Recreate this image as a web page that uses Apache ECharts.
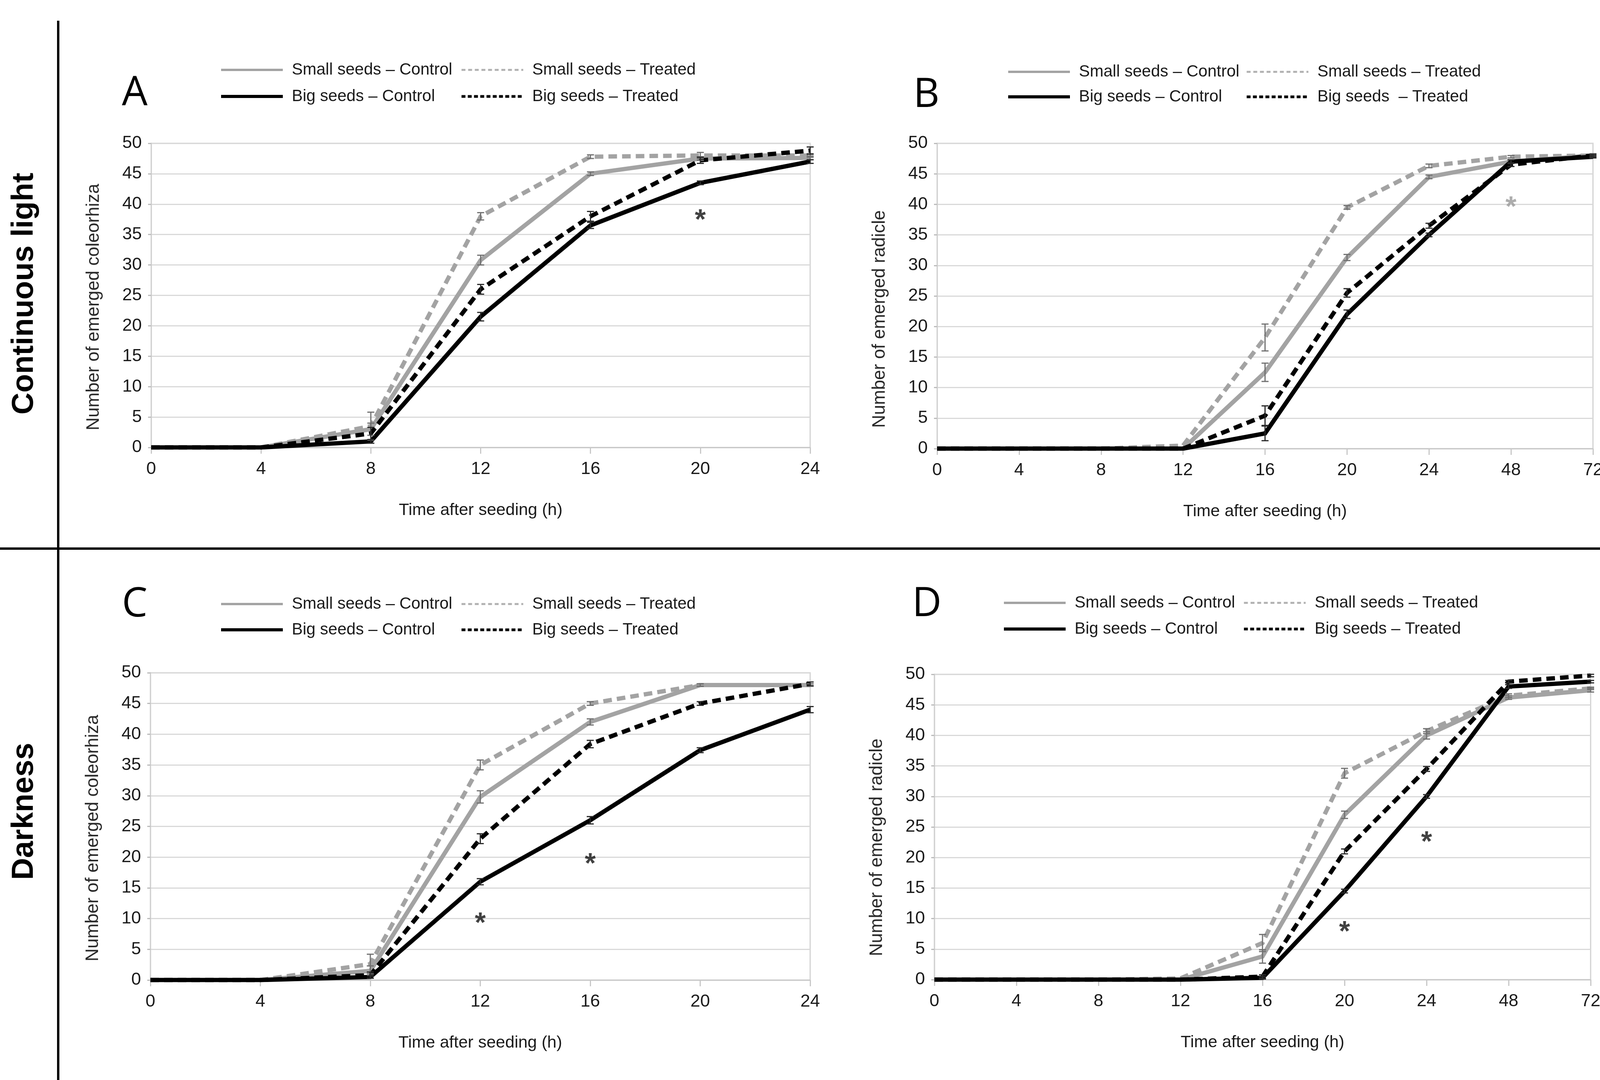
<!DOCTYPE html>
<html>
<head>
<meta charset="utf-8">
<script src="https://cdn.jsdelivr.net/npm/echarts@6/dist/echarts.min.js"></script>
<style>
html,body{margin:0;padding:0;background:#fff;}
#c{width:4195px;height:2766px;}
</style>
</head>
<body>
<div id="c"></div>
<script>
// ---------- categories / tick labels ----------
const CATS_COLEO = ['0','4','8','12','16','20','24'];
const CATS_RADIC = ['0','4','8','12','16','20','24','48','72'];

// ---------- series names ----------
const N_SC = 'Small seeds – Control';
const N_ST = 'Small seeds – Treated';
const N_BC = 'Big seeds – Control';
const N_BT = 'Big seeds – Treated';
const N_BT_B = 'Big seeds  – Treated';   // legend text as printed in panel B

// ---------- Panel A: coleorhiza, continuous light ----------
const A_SC = [0, 0, 3.0, 30.8, 45.0, 47.5, 47.6];
const A_ST = [0, 0, 3.5, 38.0, 47.8, 48.0, 48.0];
const A_BC = [0, 0, 1.0, 21.5, 36.5, 43.5, 47.0];
const A_BT = [0, 0, 2.3, 26.0, 38.0, 47.2, 48.8];
const A_SC_ERR = [0, 0, 1.0, 0.8, 0.3, 0.3, 0.3];
const A_ST_ERR = [0, 0, 2.3, 0.6, 0.3, 0.5, 0.3];
const A_BC_ERR = [0, 0, 0.3, 0.7, 0.5, 0.3, 0.3];
const A_BT_ERR = [0, 0, 1.0, 0.8, 0.8, 0.5, 0.6];
const A_STARS = [['20', 38.4]];

// ---------- Panel B: radicle, continuous light ----------
const B_SC = [0, 0, 0, 0, 12.5, 31.3, 44.5, 47.0, 48.0];
const B_ST = [0, 0, 0, 0.5, 18.2, 39.5, 46.3, 47.8, 48.0];
const B_BC = [0, 0, 0, 0, 2.5, 22.0, 35.0, 47.0, 47.8];
const B_BT = [0, 0, 0, 0, 5.4, 25.5, 36.5, 46.5, 48.0];
const B_SC_ERR = [0, 0, 0, 0, 1.5, 0.5, 0.3, 0.3, 0.3];
const B_ST_ERR = [0, 0, 0, 0, 2.2, 0.3, 0.3, 0.2, 0.2];
const B_BC_ERR = [0, 0, 0, 0, 1.2, 0.7, 0.3, 0.3, 0.2];
const B_BT_ERR = [0, 0, 0, 0, 1.6, 0.7, 0.4, 0.3, 0.2];
const B_STARS = [['48', 40.5]];

// ---------- Panel C: coleorhiza, darkness ----------
const C_SC = [0, 0, 1.5, 29.8, 42.0, 48.0, 48.0];
const C_ST = [0, 0, 2.6, 35.0, 45.0, 48.0, 48.0];
const C_BC = [0, 0, 0.5, 16.0, 26.0, 37.4, 44.0];
const C_BT = [0, 0, 0.8, 23.0, 38.4, 45.0, 48.2];
const C_SC_ERR = [0, 0, 0.8, 1.0, 0.5, 0.2, 0.2];
const C_ST_ERR = [0, 0, 1.6, 0.8, 0.3, 0.2, 0.2];
const C_BC_ERR = [0, 0, 0.2, 0.5, 0.6, 0.4, 0.5];
const C_BT_ERR = [0, 0, 0.5, 0.8, 0.6, 0.3, 0.3];
const C_STARS = [['12', 10.2], ['16', 19.9]];

// ---------- Panel D: radicle, darkness ----------
const D_SC = [0, 0, 0, 0, 3.8, 27.0, 40.0, 46.2, 47.4];
const D_ST = [0, 0, 0, 0.2, 6.0, 33.8, 40.7, 46.5, 47.7];
const D_BC = [0, 0, 0, 0, 0.3, 14.5, 30.0, 48.0, 48.8];
const D_BT = [0, 0, 0, 0, 0.5, 21.0, 34.5, 48.8, 49.8];
const D_SC_ERR = [0, 0, 0, 0, 1.1, 0.6, 0.6, 0.3, 0.3];
const D_ST_ERR = [0, 0, 0, 0, 1.4, 0.8, 0.4, 0.3, 0.2];
const D_BC_ERR = [0, 0, 0, 0, 0.2, 0.3, 0.3, 0.3, 0.2];
const D_BT_ERR = [0, 0, 0, 0, 0.3, 0.4, 0.4, 0.2, 0.2];
const D_STARS = [['20', 8.8], ['24', 23.5]];

// ---------- styles ----------
const GRAY = '#a3a3a3';
const BLACK = '#000000';
const NARROW = '"Liberation Sans", Arial, sans-serif';
const SANS = '"Liberation Sans", Arial, sans-serif';

const panels = [
  {cats: CATS_COLEO, sc: A_SC, st: A_ST, bc: A_BC, bt: A_BT,
   e: [A_SC_ERR, A_ST_ERR, A_BC_ERR, A_BT_ERR], stars: A_STARS, starColor: '#111',
   yname: 'Number of emerged coleorhiza', ypad: 60, btLabel: N_BT,
   grid: {left: 387, top: 367, width: 1687, height: 779},
   leg: [{left: 562, top: 154, gap: 18}, {left: 1178, top: 154, gap: 18}],
   letter: 'A', lx: 312, ly: 250},
  {cats: CATS_RADIC, sc: B_SC, st: B_ST, bc: B_BC, bt: B_BT,
   e: [B_SC_ERR, B_ST_ERR, B_BC_ERR, B_BT_ERR], stars: B_STARS, starColor: '#999',
   yname: 'Number of emerged radicle', ypad: 118, btLabel: N_BT_B,
   grid: {left: 2399, top: 367, width: 1679, height: 782},
   leg: [{left: 2577, top: 159, gap: 14}, {left: 3188, top: 159, gap: 14}],
   letter: 'B', lx: 2338, ly: 254},
  {cats: CATS_COLEO, sc: C_SC, st: C_ST, bc: C_BC, bt: C_BT,
   e: [C_SC_ERR, C_ST_ERR, C_BC_ERR, C_BT_ERR], stars: C_STARS, starColor: '#111',
   yname: 'Number of emerged coleorhiza', ypad: 60, btLabel: N_BT,
   grid: {left: 385, top: 1723, width: 1689, height: 787},
   leg: [{left: 562, top: 1522, gap: 16}, {left: 1178, top: 1522, gap: 16}],
   letter: 'C', lx: 312, ly: 1559},
  {cats: CATS_RADIC, sc: D_SC, st: D_ST, bc: D_BC, bt: D_BT,
   e: [D_SC_ERR, D_ST_ERR, D_BC_ERR, D_BT_ERR], stars: D_STARS, starColor: '#111',
   yname: 'Number of emerged radicle', ypad: 104, btLabel: N_BT,
   grid: {left: 2392, top: 1727, width: 1680, height: 782},
   leg: [{left: 2566, top: 1519, gap: 17}, {left: 3181, top: 1519, gap: 17}],
   letter: 'D', lx: 2335, ly: 1558}
];

const legendText = {fontFamily: NARROW, fontSize: 42, lineHeight: 50, color: '#1a1a1a', padding: [0, 0, 0, 18]};
const hideSym = {opacity: 0};
const legItem = {
  [N_SC]: {name: N_SC, lineStyle: {color: GRAY, width: 6, type: 'solid'}, itemStyle: hideSym},
  [N_ST]: {name: N_ST, lineStyle: {color: '#b0b0b0', width: 5, type: [10, 7]}, itemStyle: hideSym},
  [N_BC]: {name: N_BC, lineStyle: {color: BLACK, width: 8, type: 'solid'}, itemStyle: hideSym},
  [N_BT]: {name: N_BT, lineStyle: {color: BLACK, width: 7, type: [10, 6]}, itemStyle: hideSym}
};

function renderErr(params, api) {
  const x = api.value(0), v = api.value(1), e = api.value(2), big = api.value(3);
  const t = api.coord([x, v + e]);
  const b = api.coord([x, v - e]);
  const hw = 9;
  const color = big ? '#2a2a2a' : '#707070';
  const st = {stroke: color, lineWidth: 3};
  return {type: 'group', children: [
    {type: 'line', shape: {x1: t[0], y1: t[1], x2: b[0], y2: b[1]}, style: st},
    {type: 'line', shape: {x1: t[0] - hw, y1: t[1], x2: t[0] + hw, y2: t[1]}, style: st},
    {type: 'line', shape: {x1: b[0] - hw, y1: b[1], x2: b[0] + hw, y2: b[1]}, style: st}
  ]};
}

const option = {
  animation: false,
  backgroundColor: '#ffffff',
  grid: [], xAxis: [], yAxis: [], series: [], legend: [],
  graphic: []
};

panels.forEach((p, i) => {
  option.grid.push(Object.assign({show: true, borderColor: '#d2d2d2', borderWidth: 3, backgroundColor: 'transparent'}, p.grid));
  option.xAxis.push({
    type: 'category', gridIndex: i, data: p.cats, boundaryGap: false,
    name: 'Time after seeding (h)', nameLocation: 'middle', nameGap: 140,
    nameTextStyle: {fontFamily: NARROW, fontSize: 43, color: '#1a1a1a'},
    axisLine: {show: true, lineStyle: {color: '#c8c8c8', width: 3}},
    axisTick: {show: true, length: 16, lineStyle: {color: '#c8c8c8', width: 3}},
    axisLabel: {fontFamily: NARROW, fontSize: 45, color: '#1a1a1a', margin: 33},
    splitLine: {show: false}
  });
  option.yAxis.push({
    type: 'value', gridIndex: i, min: 0, max: 50, interval: 5,
    name: p.yname, nameLocation: 'middle', nameGap: 124,
    nameTextStyle: {fontFamily: SANS, fontSize: 46, color: '#2a2a2a', padding: [0, p.ypad, 0, 0]},
    axisLine: {show: true, lineStyle: {color: '#d2d2d2', width: 3}},
    axisTick: {show: true, length: 8, lineStyle: {color: '#bbbbbb', width: 3}},
    axisLabel: {fontFamily: NARROW, fontSize: 45, color: '#1a1a1a', margin: 24},
    splitLine: {show: true, lineStyle: {color: '#d9d9d9', width: 3}}
  });
  const mk = (name, data, color, type, z) => ({
    type: 'line', name, data, xAxisIndex: i, yAxisIndex: i,
    symbol: 'none', showSymbol: false, z,
    lineStyle: {color, width: 11, type, cap: 'butt', join: 'miter'},
    itemStyle: {color}
  });
  option.series.push(mk(N_ST, p.st, GRAY, [22, 13], 2));
  option.series.push(mk(N_SC, p.sc, GRAY, 'solid', 3));
  option.series.push(mk(N_BT, p.bt, BLACK, [22, 13], 4));
  option.series.push(mk(N_BC, p.bc, BLACK, 'solid', 5));

  const errData = [];
  const vals = [p.sc, p.st, p.bc, p.bt];
  p.e.forEach((arr, k) => {
    arr.forEach((ev, j) => { if (ev > 0) errData.push([j, vals[k][j], ev, k >= 2 ? 1 : 0]); });
  });
  option.series.push({
    type: 'custom', xAxisIndex: i, yAxisIndex: i, renderItem: renderErr,
    data: errData, encode: {x: 0, y: 1}, z: 6, silent: true
  });
  option.series.push({
    type: 'scatter', xAxisIndex: i, yAxisIndex: i, data: p.stars,
    symbolSize: 2, itemStyle: {color: 'rgba(0,0,0,0)'}, z: 7, silent: true,
    label: {show: true, position: 'inside', formatter: '*', offset: [0, 18],
      fontFamily: SANS, fontWeight: 'bold', fontSize: 72, color: p.starColor}
  });

  const cols = [[N_SC, N_BC], [N_ST, N_BT]];
  const btLabel = p.btLabel;
  p.leg.forEach((lg, c) => {
    option.legend.push({
      orient: 'vertical', left: lg.left, top: lg.top, itemWidth: 158, itemHeight: 2,
      itemGap: lg.gap, selectedMode: false, padding: 0,
      textStyle: legendText,
      formatter: name => (name === N_BT ? btLabel : name),
      data: cols[c].map(n => legItem[n])
    });
  });

  option.graphic.push({
    type: 'text', left: p.lx, top: p.ly - 62, silent: true,
    style: {text: p.letter, fontFamily: '"Open Sans", "Liberation Sans", sans-serif', fontSize: 104, fill: '#000'}
  });
});

// separators and side labels
option.graphic.push({type: 'line', silent: true, shape: {x1: 149, y1: 53, x2: 149, y2: 2766}, style: {stroke: '#000', lineWidth: 6}});
option.graphic.push({type: 'line', silent: true, shape: {x1: 0, y1: 1405, x2: 4195, y2: 1405}, style: {stroke: '#000', lineWidth: 6}});
option.graphic.push({type: 'text', silent: true, x: 62, y: 752, rotation: Math.PI / 2,
  style: {text: 'Continuous light', x: 0, y: 0, textAlign: 'center', textVerticalAlign: 'middle', align: 'center', verticalAlign: 'middle',
    fontFamily: SANS, fontWeight: 'bold', fontSize: 78, fill: '#000'}});
option.graphic.push({type: 'text', silent: true, x: 62, y: 2078, rotation: Math.PI / 2,
  style: {text: 'Darkness', x: 0, y: 0, textAlign: 'center', textVerticalAlign: 'middle', align: 'center', verticalAlign: 'middle',
    fontFamily: SANS, fontWeight: 'bold', fontSize: 78, fill: '#000'}});

const chart = echarts.init(document.getElementById('c'), null, {renderer: 'canvas', width: 4195, height: 2766, devicePixelRatio: 1});
chart.setOption(option);
</script>
</body>
</html>
